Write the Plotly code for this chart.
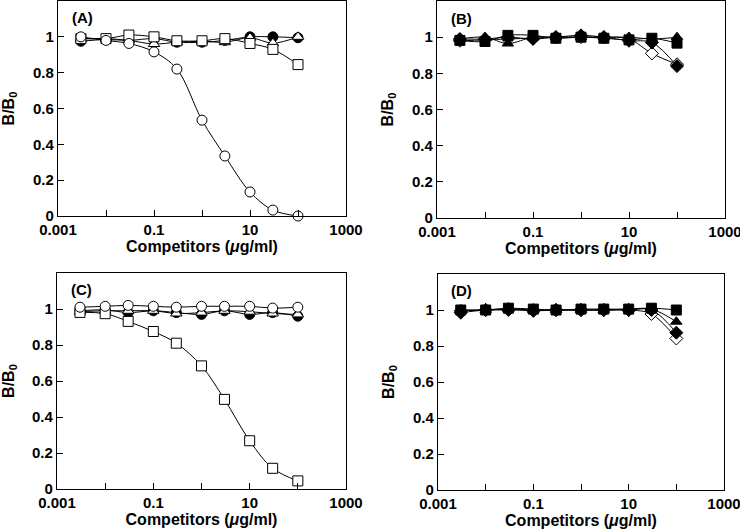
import plotly.graph_objects as go

conc = [0.003, 0.01, 0.03, 0.1, 0.3, 1, 3, 10, 30, 100]

# Panel A
a_filled_circle = [0.975, 0.985, 0.98, 0.99, 0.97, 0.97, 0.98, 1.0, 1.0, 0.995]
a_open_triangle = [0.99, 0.99, 0.98, 0.96, 0.97, 0.975, 0.97, 0.995, 0.965, 1.0]
a_open_square = [0.99, 0.99, 1.01, 1.0, 0.978, 0.978, 0.99, 0.963, 0.93, 0.845]
a_open_circle = [1.0, 0.98, 0.963, 0.916, 0.82, 0.535, 0.335, 0.134, 0.033, 0.0]

# Panel B
b_open_diamond = [0.98, 0.985, 0.99, 0.995, 1.0, 1.0, 1.0, 0.99, 0.91, 0.85]
b_filled_diamond = [0.99, 0.99, 1.0, 0.99, 1.0, 1.01, 1.0, 0.98, 0.97, 0.84]
b_filled_triangle = [0.99, 1.0, 0.965, 1.0, 1.0, 1.0, 1.0, 1.0, 0.99, 1.0]
b_filled_square = [0.982, 0.976, 1.01, 1.01, 0.994, 1.0, 0.994, 0.985, 0.994, 0.967]

# Panel C
c_filled_circle = [0.99, 0.995, 0.98, 0.99, 0.98, 0.97, 0.99, 0.97, 0.98, 0.96]
c_open_triangle = [0.985, 0.99, 0.99, 0.99, 0.975, 0.98, 0.99, 0.985, 0.975, 0.97]
c_open_square = [0.981, 0.974, 0.931, 0.875, 0.81, 0.684, 0.498, 0.268, 0.115, 0.045]
c_open_circle = [1.01, 1.015, 1.02, 1.015, 1.01, 1.015, 1.015, 1.015, 1.005, 1.01]

# Panel D
d_open_diamond = [0.995, 1.0, 1.0, 1.0, 1.0, 1.0, 1.0, 1.0, 0.978, 0.842]
d_filled_diamond = [0.985, 1.0, 1.005, 0.995, 1.0, 1.0, 1.0, 1.0, 1.0, 0.874]
d_filled_triangle = [1.0, 1.0, 1.005, 1.0, 1.0, 1.0, 1.0, 1.005, 1.005, 0.935]
d_filled_square = [1.0, 1.0, 1.01, 1.005, 1.0, 1.005, 1.005, 1.005, 1.01, 1.0]

x_tickvals = [0.001, 0.1, 10, 1000]
x_ticktext = ["0.001", "0.1", "10", "1000"]
x_minor_tickvals = [0.01, 1, 100]
y_tickvals = [0, 0.2, 0.4, 0.6, 0.8, 1]
y_ticktext = ["0", "0.2", "0.4", "0.6", "0.8", "1"]
panel_labels = ["(A)", "(B)", "(C)", "(D)"]

W, H = 740, 531
# pixel frames: left, right, top, bottom (y=0 line)
frames = [(58, 346, 1, 216), (437, 725, 1, 218), (57, 346, 273, 489), (438, 724, 274, 490)]

FONT = "Liberation Sans, Arial, Helvetica, sans-serif"

sym = {
    "filled_circle": ("circle", "black"),
    "open_circle": ("circle", "white"),
    "open_triangle": ("triangle-up", "white"),
    "filled_triangle": ("triangle-up", "black"),
    "open_square": ("square", "white"),
    "filled_square": ("square", "black"),
    "open_diamond": ("diamond", "white"),
    "filled_diamond": ("diamond", "black"),
}

panels = [
    [("filled_circle", a_filled_circle), ("open_triangle", a_open_triangle),
     ("open_square", a_open_square), ("open_circle", a_open_circle)],
    [("open_diamond", b_open_diamond), ("filled_diamond", b_filled_diamond),
     ("filled_triangle", b_filled_triangle), ("filled_square", b_filled_square)],
    [("filled_circle", c_filled_circle), ("open_triangle", c_open_triangle),
     ("open_square", c_open_square), ("open_circle", c_open_circle)],
    [("open_diamond", d_open_diamond), ("filled_diamond", d_filled_diamond),
     ("filled_triangle", d_filled_triangle), ("filled_square", d_filled_square)],
]

fig = go.Figure()
layout = {}
annotations = []
for i, (series, fr) in enumerate(zip(panels, frames)):
    n = "" if i == 0 else str(i + 1)
    xa, ya = "x" + n, "y" + n
    for kind, vals in series:
        s, fill = sym[kind]
        fig.add_trace(go.Scatter(
            x=conc, y=vals, mode="lines+markers", xaxis=xa, yaxis=ya,
            line=dict(color="black", width=1, shape="spline", smoothing=1),
            marker=dict(symbol=s, size=10, color=fill,
                        line=dict(color="black", width=1)),
            showlegend=False, cliponaxis=False,
        ))
    l, r, t, b = fr
    layout["xaxis" + n] = dict(
        type="log", range=[-3, 3], domain=[l / W, r / W], anchor=ya,
        tickvals=x_tickvals, ticktext=x_ticktext, ticks="inside", ticklen=6,
        tickwidth=1, tickcolor="black", showline=True, linecolor="black",
        linewidth=1.3, mirror=True, showgrid=False, zeroline=False,
        automargin=False, ticklabeloverflow="allow",
        minor=dict(tickvals=x_minor_tickvals, ticks="inside", ticklen=6,
                   tickwidth=1, tickcolor="black", showgrid=False),
        tickfont=dict(family=FONT, size=15, color="black", weight="bold"),
        title=dict(text="<b>Competitors (<i>μ</i>g/ml)</b>", standoff=1,
                   font=dict(family=FONT, size=16, color="black")),
    )
    layout["yaxis" + n] = dict(
        range=[0, 1.2], domain=[1 - b / H, 1 - t / H], anchor=xa,
        tickvals=y_tickvals, ticktext=y_ticktext, ticks="inside", ticklen=6,
        tickwidth=1, tickcolor="black", showline=True, linecolor="black",
        linewidth=1.3, mirror=True, showgrid=False, zeroline=False,
        automargin=False, ticklabeloverflow="allow",
        tickfont=dict(family=FONT, size=15, color="black", weight="bold"),
        title=dict(text="<b>B/B<sub>0</sub></b>", standoff=14,
                   font=dict(family=FONT, size=16, color="black")),
    )
    annotations.append(dict(
        text="<b>" + panel_labels[i] + "</b>", xref=xa + " domain", yref=ya + " domain",
        x=0.04, y=0.97, xanchor="left", yanchor="top", showarrow=False,
        font=dict(family=FONT, size=15, color="black"),
    ))

fig.update_layout(
    width=W, height=H, margin=dict(l=0, r=0, t=0, b=0),
    paper_bgcolor="white", plot_bgcolor="white",
    annotations=annotations, **layout,
)
fig.write_html("out.html", config={"displayModeBar": False},
               post_script="document.body.style.margin='0px';")
